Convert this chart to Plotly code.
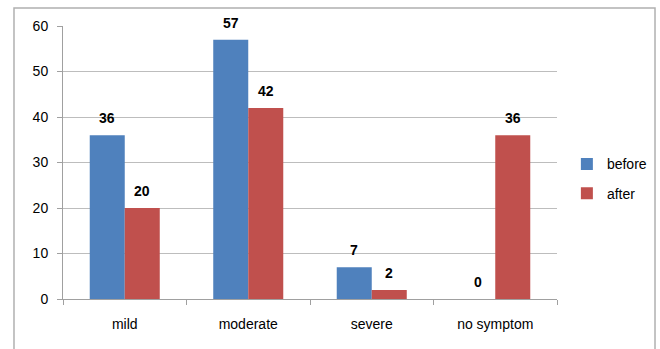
import plotly.graph_objects as go

categories = ["mild", "moderate", "severe", "no symptom"]
before = [36, 57, 7, 0]
after = [20, 42, 2, 36]
y_ticks = [0, 10, 20, 30, 40, 50, 60]

BLUE = "#4F81BD"
RED = "#C0504D"
FONT = "Liberation Sans"

fig = go.Figure()
fig.add_trace(go.Bar(name="before", x=categories, y=before, marker_color=BLUE,
                     marker_line_width=0, legendgroup="b"))
fig.add_trace(go.Bar(name="after", x=categories, y=after, marker_color=RED,
                     marker_line_width=0, legendgroup="a"))

ann = []
for i, c in enumerate(categories):
    for vals, dx in ((before, -17.5), (after, 17.5)):
        ann.append(dict(x=c, y=vals[i], text="<b>%d</b>" % vals[i], showarrow=False,
                        xshift=dx, yshift=17, yanchor="middle",
                        font=dict(family=FONT, size=14, color="black")))

fig.update_layout(
    width=660, height=349,
    margin=dict(l=63, r=103, t=26, b=50, autoexpand=False),
    paper_bgcolor="white", plot_bgcolor="white",
    barmode="group", bargap=0.433, bargroupgap=0,
    font=dict(family=FONT, size=14, color="black"),
    showlegend=True,
    legend=dict(x=1.02, y=0.44, xanchor="left", yanchor="middle",
                font=dict(family=FONT, size=14, color="black"),
                tracegroupgap=8, itemwidth=30),
    annotations=ann,
    shapes=[dict(type="rect", xref="paper", yref="paper",
                 x0=-0.0992, x1=1.1984, y0=-0.2, y1=1.066,
                 line=dict(color="#B0B0B0", width=1.5))],
    xaxis=dict(showline=True, linecolor="#A0A0A0", linewidth=1,
               ticks="outside", ticklen=5, tickcolor="#A0A0A0",
               tickson="boundaries", showgrid=False, automargin=False,
               ticklabelstandoff=12,
               tickfont=dict(family=FONT, size=14)),
    yaxis=dict(range=[0, 60], tickvals=y_ticks, showline=True, linecolor="#A0A0A0",
               linewidth=1, ticks="outside", ticklen=5, tickcolor="#A0A0A0",
               showgrid=True, gridcolor="#BDBDBD", gridwidth=1, automargin=False,
               ticklabelstandoff=6,
               zeroline=False, tickfont=dict(family=FONT, size=14)),
)

fig.write_html("out.html", config={"displayModeBar": False},
               post_script="document.body.style.margin='0';document.body.style.overflow='hidden';")
